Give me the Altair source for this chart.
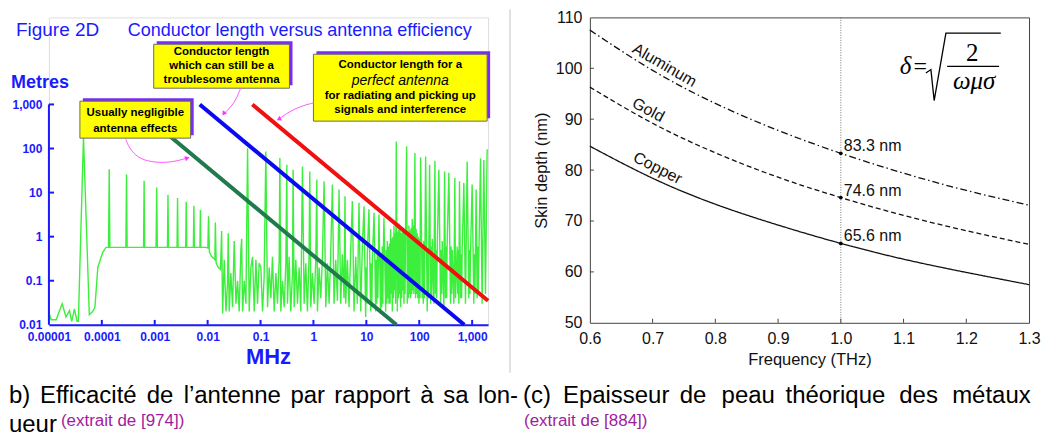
import altair as alt
import pandas as pd

FONT = "Liberation Sans"
BLUE = "#1a1aff"
PURPLE = "#a01c9c"

# ---------------- Left panel (Figure 2D) data ----------------
green_mhz = [
    1.0e-5, 1.1e-5, 1.37e-5, 1.78e-5, 2.1e-5, 2.45e-5, 2.7e-5, 3.04e-5, 3.4e-5, 3.6e-5,
    4.5e-5, 5.8e-5, 6.7e-5, 7.4e-5, 8.4e-5, 1.04e-4, 1.2e-4,
    1.34e-4, 1.38e-4, 1.42e-4, 2.85e-4, 2.93e-4, 3.01e-4, 6.15e-4, 6.3e-4, 6.45e-4,
    1.06e-3, 1.09e-3, 1.12e-3, 1.74e-3, 1.78e-3, 1.82e-3, 2.64e-3, 2.7e-3, 2.76e-3,
    3.85e-3, 3.94e-3, 4.03e-3, 5.38e-3, 5.5e-3, 5.62e-3, 7.15e-3, 7.3e-3, 7.45e-3,
    9.3e-3, 0.0101, 0.0104, 0.0108, 0.0118, 0.0128, 0.0137, 0.0140, 0.0145, 0.016,
    0.0175, 0.0184, 0.0192,
    0.0206, 0.0222, 0.0238, 0.0245, 0.0256, 0.0275, 0.0296, 0.0318, 0.0343, 0.0368,
    0.0395, 0.0425, 0.0440, 0.0457, 0.0492, 0.0529, 0.0569, 0.0611, 0.0657, 0.0706,
    0.0760, 0.0817, 0.0877, 0.0944, 0.1014, 0.109, 0.117, 0.126, 0.1355, 0.146,
    0.157, 0.168, 0.181, 0.195, 0.209, 0.225, 0.232, 0.242, 0.26, 0.28,
    0.301, 0.314, 0.323, 0.347, 0.373, 0.402, 0.413, 0.432, 0.464, 0.499,
    0.537, 0.577, 0.62, 0.667, 0.716, 0.77, 0.828, 0.853, 0.891, 0.957,
    1.03, 1.107, 1.16, 1.19, 1.28, 1.375, 1.48, 1.59, 1.71, 1.84,
    1.98, 2.12, 2.28, 2.45, 2.64, 2.84, 3.05, 3.28, 3.52, 3.79,
    3.95, 4.07, 4.38, 4.71, 5.06, 5.44, 5.85, 6.29, 6.76, 7.27,
    7.82, 8.41, 9.04, 9.71, 10.44, 11.2, 12.08, 13.0, 14.0, 15.0,
    16.1, 17.3, 18.6, 20.0, 21.5, 23.2, 24.9, 26.8, 28.8, 31.0,
    33.3, 35.7, 36.8, 38.5, 41.3, 44.5, 47.8, 51.4, 55.2, 57.7,
    59.4, 63.8, 68.6, 73.8, 79.3, 82.8, 85.3, 91.6, 98.6, 106,
    114, 122, 132, 141.6, 152, 157, 164, 176, 189, 198,
    203, 219, 235, 253, 272, 292, 301, 314, 337, 363,
    390, 420, 451, 471, 485, 521, 560, 577, 603, 648,
    697, 748, 805, 865, 930, 1000, 1075, 1156, 1190, 1242,
    1336, 1440, 1545, 1660, 1786, 1920,
]
green_metres = [
    0.019, 0.013, 0.013, 0.030, 0.015, 0.021, 0.012, 0.023, 0.012, 0.012,
    178, 0.017, 0.020, 0.025, 0.2, 0.44, 0.57,
    0.57, 34, 0.57, 0.57, 26, 0.57, 0.57, 18.5, 0.57,
    0.57, 13, 0.57, 0.57, 8.9, 0.57, 0.57, 7.5, 0.57,
    0.57, 6.2, 0.57, 0.57, 5.0, 0.57, 0.57, 4.0, 0.57,
    0.57, 0.55, 2.9, 0.45, 0.36, 0.33, 0.30, 2.1, 0.25, 0.2,
    0.18, 1.35, 0.018,
    0.3, 0.02, 0.09, 1.2, 0.02, 0.15, 0.025, 0.8, 0.03, 0.1,
    0.02, 0.5, 0.9, 0.02, 0.1, 0.03, 102, 0.02, 0.2, 0.35,
    0.02, 0.3, 0.03, 0.25, 0.2, 0.02, 0.12, 86, 0.025, 0.2,
    0.04, 0.35, 0.02, 0.15, 0.03, 0.3, 61, 0.02, 0.1, 0.025,
    0.25, 43, 0.03, 0.35, 0.02, 0.15, 33, 0.025, 0.3, 0.03,
    0.2, 0.02, 39, 0.03, 0.25, 0.02, 0.4, 30, 0.025, 0.15,
    0.03, 0.3, 19.7, 0.02, 0.2, 0.04, 0.35, 18, 0.025, 0.25,
    0.03, 0.4, 15.2, 0.03, 0.3, 0.035, 11.7, 0.03, 0.4, 0.04,
    8.3, 0.03, 0.3, 0.025, 0.5, 6.4, 0.02, 0.35, 0.03, 5.9,
    0.02, 0.6, 4.9, 0.015, 0.4, 4.2, 0.02, 0.3, 3.5, 0.02,
    0.5, 3.2, 0.018, 0.6, 2.7, 0.02, 0.8, 0.03, 1.5, 0.02,
    1.8, 0.03, 145, 0.02, 2.0, 0.025, 1.5, 0.03, 2.2, 112,
    0.03, 1.8, 0.04, 2.5, 0.05, 79, 0.04, 1.2, 0.03, 63,
    0.04, 0.8, 66, 0.02, 0.7, 43, 0.03, 0.9, 0.03, 53,
    0.05, 0.6, 33, 0.03, 0.8, 0.025, 30, 0.04, 0.7, 28,
    0.03, 0.5, 0.03, 21.5, 0.04, 0.6, 0.03, 18, 0.04, 0.5,
    16.6, 0.03, 51, 0.04, 0.4, 15.2, 0.03, 0.5, 11.7, 0.04,
    0.3, 60, 0.03, 55, 0.05, 96,
]
# extra samples of the dense part of the green trace (line is drawn sorted by frequency)
green_extra_mhz = [
    9.95, 10.2, 12.4, 12.7, 15.35, 15.7, 16.5, 16.9, 19.05, 19.5,
    20.5, 21.0, 23.75, 24.3, 25.5, 26.1, 27.4, 28.1, 29.5, 30.2,
    31.7, 32.5, 34.1, 34.9, 39.4, 40.3, 42.3, 43.4, 45.6, 46.7,
    49.0, 50.2, 52.6, 53.9, 60.8, 62.3, 65.3, 67.0, 70.3, 72.0,
    75.6, 77.4, 87.4, 89.4, 93.9, 96.2, 101, 103.5, 116.7, 119.3,
    125, 128.5, 145, 148.5, 168, 172, 192, 208, 213.5, 259,
    265.5, 321, 329, 400, 410, 534, 547, 618, 633, 886,
    908, 1100, 1128, 1272, 1304,
]
green_extra_metres = [
    0.2, 0.03, 0.25, 0.025, 0.3, 0.03, 0.04, 0.35, 0.4, 0.025,
    0.03, 0.5, 0.5, 0.03, 0.04, 0.6, 0.7, 0.03, 0.05, 0.9,
    1.0, 0.04, 0.06, 1.2, 1.3, 0.04, 0.05, 1.5, 1.2, 0.04,
    0.06, 1.6, 1.4, 0.05, 1.3, 0.04, 0.05, 1.4, 1.6, 0.05,
    0.06, 1.8, 1.5, 0.05, 0.04, 1.0, 0.9, 0.04, 0.6, 0.03,
    0.04, 0.7, 0.5, 0.04, 0.6, 0.04, 0.7, 0.5, 0.04, 0.5,
    0.05, 0.6, 0.04, 0.6, 0.05, 0.05, 0.5, 0.4, 0.04, 0.5,
    0.05, 0.4, 0.05, 0.6, 0.05,
]

# Conductor-length lines (MHz, metres)
line_names = ["negligible", "negligible", "troublesome", "troublesome", "perfect", "perfect"]
line_mhz = [3.7e-4, 37, 0.0071, 710, 0.07, 2000]
line_metres = [1000, 0.01, 1000, 0.01, 1000, 0.035]

x_ticks_left = [1e-5, 1e-4, 1e-3, 0.01, 0.1, 1, 10, 100, 1000]
y_ticks_left = [0.01, 0.1, 1, 10, 100, 1000]

# Annotation boxes (data units of the left panel)
box_x1 = [3.85e-5, 9.57e-4, 1.0]
box_x2 = [4.78e-3, 0.352, 1919]
box_y1 = [1186, 23200, 13770]
box_y2 = [172, 2337, 418]
shadow_x1 = [4.38e-5, 1.09e-3, 1.14]
shadow_x2 = [5.45e-3, 0.402, 2188]
shadow_y1 = [1387, 27160, 16100]
shadow_y2 = [201, 2735, 489]

bold_text = ["Usually negligible", "antenna effects",
             "Conductor length", "which can still be a", "troublesome antenna",
             "Conductor length for a", "for radiating and picking up", "signals and interference"]
bold_x = [4.29e-4, 4.29e-4, 0.01836, 0.01836, 0.01836, 43.8, 43.8, 43.8]
bold_y = [634, 275, 15280, 7360, 3550, 7760, 1540, 742]
italic_text = ["perfect antenna"]
italic_x = [43.8]
italic_y = [3370]

arrow_id = ["a"] * 4 + ["b"] * 4 + ["c"] * 7
arrow_f = [0.0420, 0.0337, 0.0249, 0.0200,
           1.014, 0.569, 0.319, 0.221,
           2.84e-4, 3.27e-4, 4.72e-4, 8.41e-4, 1.74e-3, 3.10e-3, 4.14e-3]
arrow_L = [2339, 1186, 782, 603,
           1086, 914, 644, 457,
           161, 104, 61.7, 49.2, 47.5, 54.7, 61.7]
head_f = [0.0205, 0.228, 4.0e-3]
head_L = [640, 470, 60]
head_angle = [213, 243, 70]

# ---------------- Right panel (skin depth) data ----------------
freq_thz = [0.6, 0.7, 0.8, 0.9, 1.0, 1.1, 1.2, 1.3]
aluminum_nm = [107.5, 99.6, 93.1, 87.8, 83.3, 79.4, 76.0, 73.1]
gold_nm = [96.3, 89.2, 83.4, 78.6, 74.6, 71.1, 68.1, 65.4]
copper_nm = [84.7, 78.4, 73.3, 69.2, 65.6, 62.5, 59.9, 57.5]
marker_thz = [1.0, 1.0, 1.0]
marker_nm = [83.3, 74.6, 65.6]
marker_text = ["83.3 nm", "74.6 nm", "65.6 nm"]
curve_label = ["Aluminum", "Gold", "Copper"]
curve_label_x = [0.719, 0.693, 0.708]
curve_label_y = [100.6, 91.8, 80.4]
curve_label_angle = [30, 28, 27]
x_ticks_right = [0.6, 0.7, 0.8, 0.9, 1.0, 1.1, 1.2, 1.3]
y_ticks_right = [50, 60, 70, 80, 90, 100, 110]

radical_x = [1.1356, 1.1436, 1.1488, 1.1675, 1.255]
radical_y = [99.08, 99.75, 93.67, 106.92, 106.92]

# ---------------- Captions (word by word, justified) ----------------
cap1_words = ["b)", "Efficacité", "de", "l’antenne", "par", "rapport", "à", "sa", "lon-",
              "(c)", "Epaisseur", "de", "peau", "théorique", "des", "métaux"]
cap1_x = [-40, -9, 98, 135, 242, 286, 372, 395, 430,
          475, 515, 632, 674, 738, 852, 905]


def txt(text, x, y, size, color="black", weight="normal", style="normal",
        font=FONT, align="left", baseline="alphabetic"):
    return alt.Chart(pd.DataFrame({"t": [text]})).mark_text(
        align=align, baseline=baseline, fontSize=size, font=font,
        fontWeight=weight, fontStyle=style, color=color,
    ).encode(x=alt.value(x), y=alt.value(y), text="t:N")


# ================= LEFT PANEL =================
xL = alt.Scale(type="log", domain=[1e-5, 2000])
yL = alt.Scale(type="log", domain=[0.01, 94400])
lbl = "datum.value < 1 ? format(datum.value, '.5~f') : format(datum.value, ',')"


def XL(field):
    return alt.X(field, scale=xL)


def YL(field):
    return alt.Y(field, scale=yL)


axis_xL = alt.Axis(values=x_ticks_left, labelExpr=lbl, labelFont=FONT, labelFontWeight="bold",
                   labelFontSize=12, labelColor=BLUE, domainColor=BLUE, domainWidth=2,
                   ticks=False, grid=False, labelPadding=7, labelFlush=False,
                   labelOverlap=False, title="")
axis_yL = alt.Axis(values=y_ticks_left, labelExpr=lbl, labelFont=FONT, labelFontWeight="bold",
                   labelFontSize=12, labelColor=BLUE, domain=False, ticks=False, grid=False,
                   labelPadding=7, labelOverlap=False, title="")

green_df = pd.DataFrame({"f": green_mhz + green_extra_mhz,
                         "L": green_metres + green_extra_metres})
green_layer = alt.Chart(green_df).mark_line(color="#3cef3c", strokeWidth=1.4).encode(
    x=alt.X("f:Q", scale=xL, axis=axis_xL),
    y=alt.Y("L:Q", scale=yL, axis=axis_yL),
)

lines_df = pd.DataFrame({"name": line_names, "f": line_mhz, "L": line_metres})
lines_layer = alt.Chart(lines_df).mark_line(strokeWidth=4).encode(
    x=XL("f:Q"), y=YL("L:Q"),
    color=alt.Color("name:N", legend=None,
                    scale=alt.Scale(domain=["negligible", "troublesome", "perfect"],
                                    range=["#1f7a4e", "#0a0af0", "#f01010"])),
    detail="name:N",
)

yaxis_df = pd.DataFrame({"f": [1e-5], "L1": [0.01], "L2": [1000]})
yaxis_line = alt.Chart(yaxis_df).mark_rule(color=BLUE, strokeWidth=2).encode(
    x=XL("f:Q"), y=YL("L1:Q"), y2="L2:Q")

xt_df = pd.DataFrame({"f": x_ticks_left[1:], "a": [0.01] * 8, "b": [0.0129] * 8})
xticks_layer = alt.Chart(xt_df).mark_rule(color=BLUE, strokeWidth=2).encode(
    x=XL("f:Q"), y=YL("a:Q"), y2="b:Q")
yt_df = pd.DataFrame({"L": y_ticks_left[1:], "a": [1e-5] * 5, "b": [1.25e-5] * 5})
yticks_layer = alt.Chart(yt_df).mark_rule(color=BLUE, strokeWidth=2).encode(
    y=YL("L:Q"), x=XL("a:Q"), x2="b:Q")

shadow_df = pd.DataFrame({"x1": shadow_x1, "x2": shadow_x2, "y1": shadow_y1, "y2": shadow_y2})
shadow_layer = alt.Chart(shadow_df).mark_rect(color="#7a2cf5").encode(
    x=XL("x1:Q"), x2="x2:Q", y=YL("y1:Q"), y2="y2:Q")
box_df = pd.DataFrame({"x1": box_x1, "x2": box_x2, "y1": box_y1, "y2": box_y2})
box_layer = alt.Chart(box_df).mark_rect(fill="#ffff00", stroke="#6a6a6a", strokeWidth=1).encode(
    x=XL("x1:Q"), x2="x2:Q", y=YL("y1:Q"), y2="y2:Q")

bold_df = pd.DataFrame({"f": bold_x, "L": bold_y, "t": bold_text})
bold_layer = alt.Chart(bold_df).mark_text(font=FONT, fontWeight="bold", fontSize=11.5,
                                          color="black", baseline="middle").encode(
    x=XL("f:Q"), y=YL("L:Q"), text="t:N")
ital_df = pd.DataFrame({"f": italic_x, "L": italic_y, "t": italic_text})
ital_layer = alt.Chart(ital_df).mark_text(font=FONT, fontStyle="italic", fontSize=14,
                                          color="black", baseline="middle").encode(
    x=XL("f:Q"), y=YL("L:Q"), text="t:N")

arrow_df = pd.DataFrame({"id": arrow_id, "o": list(range(len(arrow_f))), "f": arrow_f, "L": arrow_L})
arrow_layer = alt.Chart(arrow_df).mark_line(color="#ff55ff", strokeWidth=1, interpolate="basis").encode(
    x=XL("f:Q"), y=YL("L:Q"), detail="id:N", order="o:Q")
head_df = pd.DataFrame({"f": head_f, "L": head_L, "a": head_angle})
head_layer = alt.Chart(head_df).mark_point(shape="triangle", filled=True, size=28,
                                           color="#ff33ff", opacity=1).encode(
    x=XL("f:Q"), y=YL("L:Q"), angle=alt.Angle("a:Q", scale=None))

sep = alt.Chart(pd.DataFrame({"v": [0]})).mark_rule(color="#c4c4c4", strokeWidth=1).encode(
    x=alt.value(462), y=alt.value(-8), y2=alt.value(356))

cap_df = pd.DataFrame({"t": cap1_words, "px": cap1_x})
cap_layer = alt.Chart(cap_df).mark_text(font=FONT, fontSize=24, color="black", align="left",
                                        baseline="alphabetic").encode(
    x=alt.X("px:Q", scale=None), y=alt.value(386), text="t:N")

left = alt.layer(
    green_layer, lines_layer, yaxis_line, xticks_layer, yticks_layer,
    shadow_layer, box_layer, bold_layer, ital_layer, arrow_layer, head_layer,
    txt("Figure 2D", -33, 19, 19, color=BLUE),
    txt("Conductor length versus antenna efficiency", 79, 19, 18, color=BLUE),
    txt("Metres", -38, 71, 18, color=BLUE, weight="bold"),
    txt("MHz", 220, 347, 22, color=BLUE, weight="bold", align="center"),
    sep,
    cap_layer,
    txt("ueur", -40, 415, 24),
    txt("(extrait de [974])", 12, 409, 17, color=PURPLE),
    txt("(extrait de [884])", 476, 409, 17, color=PURPLE),
).properties(width=440, height=308)

# ================= RIGHT PANEL =================
xR = alt.Scale(domain=[0.6, 1.3], nice=False, zero=False)
yR = alt.Scale(domain=[50, 110], nice=False, zero=False)


def XR(field):
    return alt.X(field, scale=xR)


def YR(field):
    return alt.Y(field, scale=yR)


axis_xR = alt.Axis(values=x_ticks_right, format=".1f", labelFont=FONT, labelFontSize=16,
                   labelColor="#111", domain=False, ticks=False, grid=False, labelPadding=8,
                   labelFlush=False, labelOverlap=False, title="Frequency (THz)",
                   titleFont=FONT, titleFontSize=16.5, titleFontWeight="normal",
                   titleColor="#111", titlePadding=5)
axis_yR = alt.Axis(values=y_ticks_right, labelFont=FONT, labelFontSize=16, labelColor="#111",
                   domain=False, ticks=False, grid=False, labelPadding=8, labelOverlap=False,
                   title="Skin depth (nm)", titleFont=FONT, titleFontSize=16.5,
                   titleFontWeight="normal", titleColor="#111", titlePadding=6)

curves_df = pd.DataFrame({
    "freq": freq_thz * 3,
    "depth": aluminum_nm + gold_nm + copper_nm,
    "metal": ["Aluminum"] * 8 + ["Gold"] * 8 + ["Copper"] * 8,
})
curves = alt.Chart(curves_df).mark_line(color="#111", strokeWidth=1.3, interpolate="natural").encode(
    x=alt.X("freq:Q", scale=xR, axis=axis_xR),
    y=alt.Y("depth:Q", scale=yR, axis=axis_yR),
    strokeDash=alt.StrokeDash("metal:N", legend=None,
                              scale=alt.Scale(domain=["Aluminum", "Gold", "Copper"],
                                              range=[[7, 3, 1.5, 3], [5, 3], [1, 0]])),
    detail="metal:N",
)

vline = alt.Chart(pd.DataFrame({"f": [1.0], "a": [50], "b": [110]})).mark_rule(
    color="#555", strokeWidth=0.8, strokeDash=[1, 1.5]).encode(
    x=XR("f:Q"), y=YR("a:Q"), y2="b:Q")

mk_df = pd.DataFrame({"f": marker_thz, "d": marker_nm, "t": marker_text})
markers = alt.Chart(mk_df).mark_circle(color="black", size=14, opacity=1).encode(
    x=XR("f:Q"), y=YR("d:Q"))
mk_text = alt.Chart(mk_df).mark_text(font=FONT, fontSize=16, color="#111", align="left",
                                     baseline="middle", dx=3, dy=-7).encode(
    x=XR("f:Q"), y=YR("d:Q"), text="t:N")

cl_df = pd.DataFrame({"x": curve_label_x, "y": curve_label_y, "t": curve_label, "a": curve_label_angle})
cl_layer = alt.Chart(cl_df).mark_text(font=FONT, fontSize=16, color="#111", align="center",
                                      baseline="middle").encode(
    x=XR("x:Q"), y=YR("y:Q"), text="t:N", angle=alt.Angle("a:Q", scale=None))

xtR = pd.DataFrame({"f": x_ticks_right[1:-1], "a": [50] * 6, "b": [50.8] * 6})
xticksR = alt.Chart(xtR).mark_rule(color="#444", strokeWidth=1).encode(
    x=XR("f:Q"), y=YR("a:Q"), y2="b:Q")
ytR = pd.DataFrame({"d": y_ticks_right[1:-1], "a": [0.6] * 5, "b": [0.6064] * 5})
yticksR = alt.Chart(ytR).mark_rule(color="#444", strokeWidth=1).encode(
    y=YR("d:Q"), x=XR("a:Q"), x2="b:Q")

rad_df = pd.DataFrame({"x": radical_x, "y": radical_y, "o": [0, 1, 2, 3, 4]})
radical = alt.Chart(rad_df).mark_line(color="black", strokeWidth=1.3).encode(
    x=XR("x:Q"), y=YR("y:Q"), order="o:Q")
frac_df = pd.DataFrame({"a": [1.1695], "b": [1.2523], "y": [100.39]})
frac = alt.Chart(frac_df).mark_rule(color="black", strokeWidth=1.2).encode(
    x=XR("a:Q"), x2="b:Q", y=YR("y:Q"))


def ftxt(text, x, y, size, style="italic", align="center"):
    return alt.Chart(pd.DataFrame({"x": [x], "y": [y], "t": [text]})).mark_text(
        font="Liberation Serif", fontSize=size, fontStyle=style, color="black",
        align=align, baseline="alphabetic").encode(
        x=XR("x:Q"), y=YR("y:Q"), text="t:N")


right = alt.layer(
    curves, vline, markers, mk_text, cl_layer, xticksR, yticksR, radical, frac,
    ftxt("δ", 1.1030, 98.82, 25),
    ftxt("=", 1.1266, 98.82, 24, style="normal"),
    ftxt("2", 1.2093, 101.37, 25, style="normal"),
    ftxt("ωμσ", 1.2125, 95.88, 25),
).properties(width=440, height=306, view=alt.ViewBackground(stroke="#444", strokeWidth=1))

chart = alt.hconcat(left, right, spacing=102, bounds="flush").properties(
    padding=0
).configure_view(stroke="transparent").configure(font=FONT)

chart.save("out.html", embed_options={"renderer": "svg", "actions": False})
